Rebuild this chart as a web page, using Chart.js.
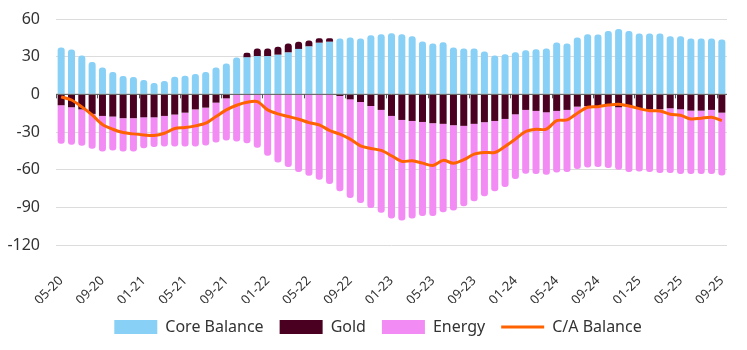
<!DOCTYPE html>
<html>
<head>
    <title>C/A Balance Breakdown</title>
    <script src="https://cdn.jsdelivr.net/npm/chart.js"></script>
    <style>
        body { margin: 0; background: #fff; }
        #wrap { width: 747px; height: 350px; }
    </style>
</head>
<body>
    <div id="wrap"><canvas id="caChart"></canvas></div>

    <script>
        // months 05-20 .. 09-25
        const months = [
            '05-20','06-20','07-20','08-20','09-20','10-20','11-20','12-20',
            '01-21','02-21','03-21','04-21','05-21','06-21','07-21','08-21','09-21','10-21','11-21','12-21',
            '01-22','02-22','03-22','04-22','05-22','06-22','07-22','08-22','09-22','10-22','11-22','12-22',
            '01-23','02-23','03-23','04-23','05-23','06-23','07-23','08-23','09-23','10-23','11-23','12-23',
            '01-24','02-24','03-24','04-24','05-24','06-24','07-24','08-24','09-24','10-24','11-24','12-24',
            '01-25','02-25','03-25','04-25','05-25','06-25','07-25','08-25','09-25'
        ];

        const coreBalance = [
            37.3, 35.7, 31.0, 25.7, 21.4, 17.7, 14.6, 13.8, 11.4, 9.0, 10.6, 14.0, 14.8,
            16.1, 17.7, 21.4, 24.6, 29.4, 29.4, 30.4, 30.4, 31.5, 33.3, 36.2, 38.1, 41.0,
            41.8, 44.4, 45.2, 44.4, 47.1, 47.9, 48.7, 47.9, 46.3, 42.1, 40.5, 41.5, 37.3,
            36.5, 36.5, 34.1, 31.0, 32.0, 33.6, 35.2, 36.0, 36.5, 41.3, 40.5, 45.2, 47.9,
            47.6, 50.5, 52.1, 50.5, 48.4, 48.4, 48.4, 46.3, 46.3, 44.4, 44.4, 44.4, 43.7
        ];

        const gold = [
            -8.7, -10.3, -12.0, -15.6, -17.2, -17.7, -19.0, -19.0, -18.3, -18.3, -17.2, -16.1, -14.6,
            -12.0, -10.6, -6.6, -3.2, -0.5, 3.7, 6.1, 6.1, 6.3, 7.2, 5.6, 4.8, 3.7,
            2.9, -1.3, -4.0, -6.1, -9.3, -12.4, -17.2, -20.4, -21.2, -22.0, -23.0, -23.5, -24.6,
            -25.1, -23.5, -22.2, -21.2, -19.6, -15.9, -12.4, -13.2, -14.3, -13.2, -12.4, -9.8, -9.3,
            -9.3, -9.0, -10.3, -9.3, -11.1, -11.9, -11.9, -11.1, -11.9, -13.0, -13.0, -12.4, -14.6
        ];

        const energy = [
            -30.7, -29.9, -29.0, -27.8, -28.3, -27.0, -26.5, -26.5, -24.6, -23.7, -24.3, -25.4, -26.9,
            -29.5, -30.1, -31.8, -33.6, -37.1, -38.9, -42.6, -48.9, -54.2, -57.9, -61.9, -64.8, -68.0,
            -71.4, -75.9, -78.5, -80.4, -81.2, -82.0, -81.7, -80.1, -77.7, -75.0, -74.0, -70.4, -68.0,
            -64.1, -61.7, -59.0, -56.0, -54.2, -51.6, -50.8, -50.3, -49.7, -49.0, -49.5, -49.7, -48.9,
            -48.6, -49.7, -49.7, -52.6, -50.3, -50.0, -50.8, -51.6, -51.6, -50.5, -50.5, -51.1, -50.0
        ];

        const caBalance = [
            -2.0, -4.5, -10.0, -16.4, -24.0, -27.8, -30.4, -31.5, -32.3, -32.8, -31.0, -27.2, -26.5,
            -25.1, -23.0, -17.7, -12.4, -8.7, -6.3, -5.8, -12.4, -15.6, -17.7, -19.8, -22.5, -24.3,
            -28.8, -31.7, -35.7, -41.0, -43.1, -44.7, -48.9, -53.4, -52.9, -54.8, -56.6, -52.6, -54.8,
            -52.1, -47.6, -46.3, -46.3, -41.5, -35.7, -29.6, -27.8, -27.8, -20.9, -20.4, -15.1, -10.3,
            -9.8, -8.5, -7.9, -9.3, -11.4, -13.0, -13.2, -15.9, -16.7, -19.6, -19.0, -18.3, -20.9
        ];

        const yTicks = [60, 30, 0, -30, -60, -90, -120];

        const FONT = '"Noto Sans", sans-serif';

        // zero line plus small tick marks every 4 months, drawn over the bars
        const zeroAxis = {
            id: 'zeroAxis',
            afterLayout(chart) {
                // nudge the legend a bit right, like the original
                chart.legend.left += 11;
                chart.legend.right += 11;
            },
            afterDatasetsDraw(chart) {
                const ctx = chart.ctx;
                const x = chart.scales.x;
                const y0 = chart.scales.y.getPixelForValue(0);
                ctx.save();
                ctx.strokeStyle = '#555';
                ctx.lineWidth = 1;
                ctx.beginPath();
                ctx.moveTo(chart.chartArea.left, y0);
                ctx.lineTo(chart.chartArea.right, y0);
                for (let i = 0; i < months.length; i += 4) {
                    const px = Math.round(x.getPixelForValue(i) - x.width / months.length / 2) + 0.5;
                    ctx.moveTo(px, y0);
                    ctx.lineTo(px, y0 + 4);
                }
                ctx.stroke();
                ctx.restore();
            }
        };

        new Chart(document.getElementById('caChart'), {
            type: 'bar',
            data: {
                labels: months,
                datasets: [
                    {
                        type: 'line',
                        label: 'C/A Balance',
                        data: caBalance,
                        borderColor: '#FF6200',
                        backgroundColor: '#FF6200',
                        borderWidth: 3,
                        pointRadius: 0,
                        pointStyle: 'line',
                        tension: 0.3,
                        order: 0
                    },
                    {
                        label: 'Core Balance',
                        data: coreBalance,
                        backgroundColor: '#89D0F6',
                        pointStyle: 'rect',
                        borderRadius: 3,
                        order: 1
                    },
                    {
                        label: 'Gold',
                        data: gold,
                        backgroundColor: '#4A0020',
                        pointStyle: 'rect',
                        borderRadius: 3,
                        order: 1
                    },
                    {
                        label: 'Energy',
                        data: energy,
                        backgroundColor: '#F38BF5',
                        pointStyle: 'rect',
                        borderRadius: 3,
                        order: 1
                    }
                ]
            },
            options: {
                responsive: true,
                maintainAspectRatio: false,
                animation: false,
                categoryPercentage: 1,
                barPercentage: 0.68,
                layout: { padding: { top: 19, right: 20, left: 7, bottom: 5 } },
                plugins: {
                    legend: {
                        position: 'bottom',
                        labels: {
                            usePointStyle: true,
                            pointStyleWidth: 43,
                            boxHeight: 14,
                            padding: 16,
                            color: '#333',
                            font: { family: FONT, size: 16 },
                            sort: (a, b) => (a.datasetIndex === 0) - (b.datasetIndex === 0)
                        }
                    },
                    tooltip: { enabled: false }
                },
                scales: {
                    x: {
                        stacked: true,
                        grid: { display: false, drawTicks: false },
                        border: { display: false },
                        afterFit: axis => {
                            axis.paddingLeft = 0;
                            axis.paddingRight = 0;
                            axis.height = 58;
                        },
                        ticks: {
                            autoSkip: false,
                            maxRotation: 45,
                            minRotation: 45,
                            padding: 28,
                            color: '#333',
                            font: { family: FONT, size: 13 },
                            callback: (v, i) => (i % 4 === 0 ? months[i] : '')
                        }
                    },
                    y: {
                        stacked: true,
                        min: -120,
                        max: 60,
                        border: { display: false },
                        grid: { color: '#dcdcdc', drawTicks: false },
                        afterBuildTicks: axis => { axis.ticks = yTicks.map(v => ({ value: v })); },
                        afterFit: axis => {
                            axis.width = 49;
                            axis.paddingTop = 0;
                        },
                        ticks: {
                            padding: 16,
                            color: '#333',
                            font: { family: FONT, size: 16 }
                        }
                    }
                }
            },
            plugins: [zeroAxis]
        });
    </script>
</body>
</html>
